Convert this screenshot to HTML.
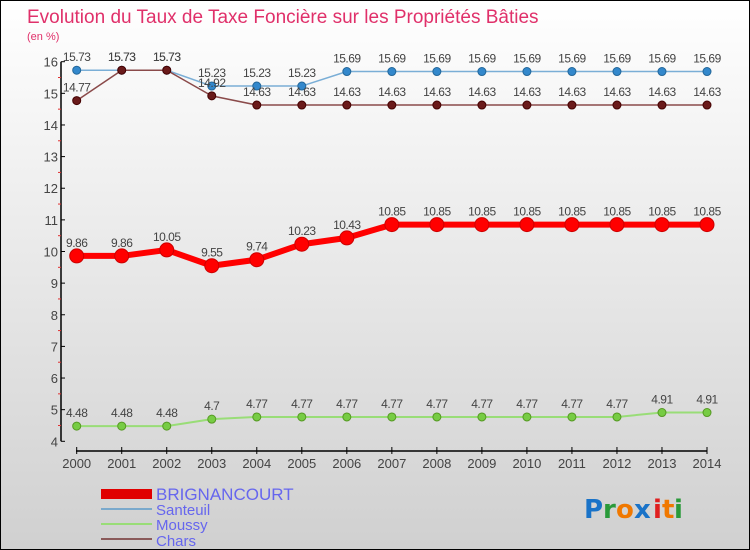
<!DOCTYPE html>
<html><head><meta charset="utf-8"><style>
body{margin:0}
#wrap{width:748px;height:548px;border:1px solid #000;background:linear-gradient(#ffffff,#d0d0d0);position:relative;font-family:"Liberation Sans",sans-serif;overflow:hidden}
</style></head><body>
<div id="wrap">
<svg id="svg" width="748" height="548" style="position:absolute;left:0;top:0">
<text x="26" y="22" font-size="19" fill="#e0306a">Evolution du Taux de Taxe Foncière sur les Propriétés Bâties</text>
<text x="26" y="39" font-size="11" fill="#e0306a">(en %)</text>
<g id="axes"></g><g id="series"></g>
<g>
<rect x="100" y="488" width="51" height="10" fill="#e00000"/>
<text x="155" y="499" font-size="17" fill="#6666ee">BRIGNANCOURT</text>
<rect x="100" y="507" width="51" height="2" fill="#7aa9cc"/>
<text x="155" y="514" font-size="15" fill="#6666ee">Santeuil</text>
<rect x="100" y="522" width="51" height="2" fill="#99dd77"/>
<text x="155" y="529" font-size="15" fill="#6666ee">Moussy</text>
<rect x="100" y="537" width="51" height="2" fill="#8a5a5a"/>
<text x="155" y="545" font-size="15" fill="#6666ee">Chars</text>
</g>
<g font-size="26" font-family="'DejaVu Sans',sans-serif" font-weight="bold">
<text x="583" y="517" fill="#1a73c8">P</text><text x="602" y="517" fill="#2a9a3a">r</text><text x="615" y="517" fill="#f07800">o</text><text x="633" y="517" fill="#1a73c8">x</text><text x="652" y="517" fill="#e02020">i</text><text x="661" y="517" fill="#f07800">t</text><text x="673" y="517" fill="#2a9a3a">i</text>
</g>
</svg>
</div>
<script>
const years=[2000,2001,2002,2003,2004,2005,2006,2007,2008,2009,2010,2011,2012,2013,2014];
const yTicks=[4,5,6,7,8,9,10,11,12,13,14,15,16];
const brignancourt=[9.86,9.86,10.05,9.55,9.74,10.23,10.43,10.85,10.85,10.85,10.85,10.85,10.85,10.85,10.85];
const santeuil=[15.73,15.73,15.73,15.23,15.23,15.23,15.69,15.69,15.69,15.69,15.69,15.69,15.69,15.69,15.69];
const moussy=[4.48,4.48,4.48,4.7,4.77,4.77,4.77,4.77,4.77,4.77,4.77,4.77,4.77,4.91,4.91];
const chars=[14.77,15.73,15.73,14.92,14.63,14.63,14.63,14.63,14.63,14.63,14.63,14.63,14.63,14.63,14.63];
const NS="http://www.w3.org/2000/svg";
const xs=i=>75.7+i*(706-75.7)/(years.length-1);
const ys=v=>440.3-(v-4)*(440.3-60.7)/12;
function mk(t,a,p){const e=document.createElementNS(NS,t);for(const k in a)e.setAttribute(k,a[k]);p.appendChild(e);return e;}
const ax=document.getElementById('axes');
let l=mk('line',{x1:60,y1:ys(16),x2:60,y2:ys(4),stroke:'#000','stroke-width':1.5},ax);


l=mk('line',{x1:75,y1:450,x2:706,y2:450,stroke:'#000','stroke-width':1.5},ax);


yTicks.forEach((v,i)=>{
 mk('line',{x1:60,y1:ys(v),x2:64,y2:ys(v),stroke:'#000'},ax);
 if(i<yTicks.length-1) mk('line',{x1:57,y1:ys(v+0.5),x2:60,y2:ys(v+0.5),stroke:'#e03030'},ax);
 const t=mk('text',{x:57,y:ys(v)+5,'font-size':13,fill:'#444','text-anchor':'end'},ax);
 t.textContent=v;
 
 
});
years.forEach((y,i)=>{
 mk('line',{x1:xs(i),y1:446,x2:xs(i),y2:453,stroke:'#000'},ax);
 const t=mk('text',{x:xs(i),y:467,'font-size':13,fill:'#444','text-anchor':'middle'},ax);
 t.textContent=y;
 
 
});
const sg=document.getElementById('series');
function draw(name,vals,color,w,r,dot,stroke){
 const g=mk('g',{},sg);
 
 
 const pts=vals.map((v,i)=>xs(i)+','+ys(v)).join(' ');
 mk('polyline',{points:pts,fill:'none',stroke:color,'stroke-width':w,'stroke-linejoin':'round'},g);
 vals.forEach((v,i)=>{
  const c=mk('circle',{cx:xs(i),cy:ys(v),r:r,fill:dot,stroke:stroke,'stroke-width':1},g);
  
  
  const t=mk('text',{x:xs(i),y:ys(v)-9,'font-size':12,fill:'#444','text-anchor':'middle','letter-spacing':'-0.5'},g);
  t.textContent=String(v).replace(/\.0$/,'');
  
  
 });
}
draw('moussy',moussy,'#99dd77',2,4,'#77cc44','#559922');
draw('santeuil',santeuil,'#7aaed6',1.5,4,'#3388cc','#226699');
draw('chars',chars,'#8a4a4a',1.5,4,'#6a1a1a','#440000');
draw('brignancourt',brignancourt,'#ff0000',6,7,'#ff0000','#cc0000');
</script>
</body></html>
